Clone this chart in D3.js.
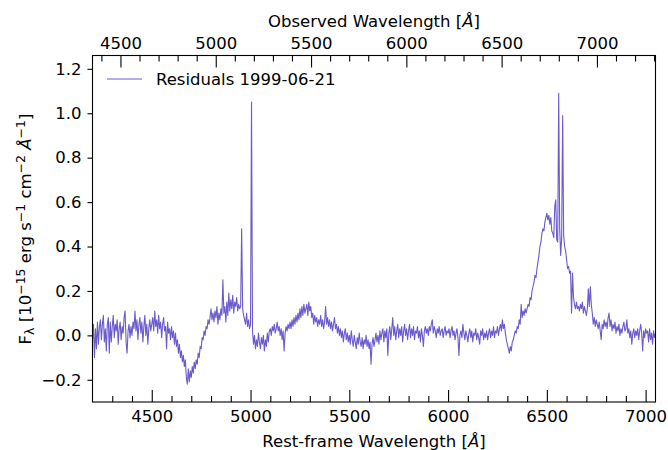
<!DOCTYPE html>
<html>
<head>
<meta charset="utf-8">
<script src="https://cdn.jsdelivr.net/npm/d3@7"></script>
<style>
  body { margin: 0; background: #fff; }
  text { font-family: "DejaVu Sans", sans-serif; }
</style>
</head>
<body>
<svg id="chart" width="668" height="450"></svg>
<script>
// ---------------- data ----------------
const seriesLabel = "Residuals 1999-06-21";
const lambdaStart = 4200;   // rest-frame wavelength of first sample [Å]
const lambdaStep = 5;       // sampling [Å]
const redshiftFactor = 1.0365; // observed / rest
const flux = [
  // 4200-4295
  -0.02, 0.05, -0.10, 0.03, -0.06, 0.06, -0.04, 0.04, 0.07, -0.02, 0.05, 0.09, -0.03, 0.03, -0.07, 0.05, 0.08, -0.08, 0.06, -0.03,
  // 4300-4395
  0.04, 0.09, -0.01, 0.05, 0.02, 0.07, -0.04, 0.03, 0.06, -0.02, 0.04, 0.01, 0.08, 0.11, -0.03, -0.08, 0.02, 0.05, -0.01, 0.04,
  // 4400-4495
  0.00, 0.06, 0.03, 0.11, 0.02, 0.07, -0.02, 0.05, 0.08, 0.01, 0.06, -0.03, 0.04, 0.09, 0.00, 0.05, -0.04, 0.03, 0.07, 0.02,
  // 4500-4595
  0.05, 0.08, 0.02, 0.11, 0.04, 0.07, 0.01, 0.09, 0.03, 0.06, -0.01, 0.05, 0.08, 0.02, 0.04, -0.06, 0.06, 0.01, 0.03, -0.02,
  // 4600-4695
  0.04, -0.01, 0.02, -0.04, 0.01, -0.05, -0.02, -0.08, -0.04, -0.10, -0.07, -0.12, -0.09, -0.14, -0.11, -0.19, -0.22, -0.15, -0.21, -0.16,
  // 4700-4795
  -0.19, -0.14, -0.17, -0.12, -0.15, -0.11, -0.13, -0.08, -0.10, -0.05, -0.06, -0.01, -0.02, 0.02, 0.00, 0.04, 0.03, 0.07, 0.05, 0.08,
  // 4800-4895
  0.12, 0.07, 0.10, 0.06, 0.11, 0.08, 0.13, 0.05, 0.10, 0.07, 0.12, 0.09, 0.25, 0.10, 0.13, 0.06, 0.15, 0.09, 0.19, 0.11,
  // 4900-4995
  0.16, 0.12, 0.18, 0.10, 0.15, 0.13, 0.17, 0.11, 0.14, 0.12, 0.13, 0.48, 0.12, 0.09, 0.07, 0.05, 0.10, 0.04, 0.07, 0.03,
  // 5000-5095
  0.05, 1.05, 0.02, -0.04, 0.00, -0.06, -0.02, -0.05, 0.01, -0.03, -0.06, -0.01, -0.04, 0.00, -0.07, -0.02, -0.05, 0.01, -0.03, 0.02,
  // 5100-5195
  0.03, 0.00, 0.04, 0.02, 0.05, 0.01, 0.03, 0.06, 0.02, 0.04, 0.00, 0.03, -0.02, 0.02, -0.07, 0.01, 0.04, 0.02, 0.05, 0.03,
  // 5200-5295
  0.06, 0.03, 0.07, 0.04, 0.08, 0.05, 0.09, 0.06, 0.10, 0.07, 0.12, 0.08, 0.13, 0.09, 0.14, 0.10, 0.12, 0.14, 0.09, 0.15,
  // 5300-5395
  0.11, 0.13, 0.08, 0.10, 0.05, 0.09, 0.06, 0.08, 0.04, 0.07, 0.05, 0.09, 0.04, 0.07, 0.03, 0.06, 0.13, 0.05, 0.08, 0.04,
  // 5400-5495
  0.07, 0.03, 0.06, 0.02, 0.05, 0.08, 0.03, 0.05, 0.01, 0.04, 0.00, 0.03, -0.01, 0.02, -0.03, 0.01, 0.03, -0.02, 0.01, -0.03,
  // 5500-5595
  0.00, -0.04, 0.02, -0.02, -0.05, 0.00, -0.03, -0.06, -0.01, -0.04, 0.01, -0.03, -0.05, -0.01, -0.06, -0.02, -0.04, 0.00, -0.05, -0.02,
  // 5600-5695
  -0.06, -0.03, -0.13, -0.04, -0.01, -0.05, -0.02, 0.01, -0.03, 0.00, -0.04, 0.02, -0.02, 0.01, 0.03, -0.03, 0.02, -0.01, 0.03, -0.09,
  // 5700-5795
  0.01, 0.04, -0.02, 0.03, 0.08, 0.00, 0.04, -0.02, 0.02, 0.05, -0.01, 0.03, 0.00, 0.04, -0.03, 0.02, 0.05, 0.00, 0.03, -0.02,
  // 5800-5895
  0.02, 0.05, -0.01, 0.03, 0.00, 0.04, -0.02, 0.02, 0.01, 0.04, -0.01, 0.02, -0.03, 0.03, 0.00, -0.05, 0.02, 0.04, 0.01, 0.03,
  // 5900-5995
  0.00, 0.04, 0.02, 0.05, 0.07, 0.01, 0.04, 0.02, -0.01, 0.03, 0.01, 0.04, 0.00, 0.02, 0.03, -0.01, 0.02, 0.04, 0.00, 0.02,
  // 6000-6095
  0.01, 0.03, -0.01, 0.02, 0.04, 0.00, 0.02, -0.02, 0.01, 0.03, -0.01, -0.09, 0.00, 0.02, -0.01, 0.05, 0.01, -0.02, 0.02, 0.00,
  // 6100-6195
  -0.03, 0.01, 0.03, -0.01, 0.02, -0.03, 0.01, 0.00, 0.03, -0.02, 0.01, -0.01, -0.04, 0.02, 0.00, 0.03, -0.02, 0.01, -0.01, 0.02,
  // 6200-6295
  -0.02, 0.01, 0.03, -0.01, 0.02, 0.00, 0.04, -0.01, 0.02, 0.01, 0.04, 0.00, 0.03, 0.05, 0.02, 0.07, 0.03, 0.05, 0.01, -0.02,
  // 6300-6395
  -0.04, -0.06, -0.08, -0.05, -0.07, -0.03, -0.02, 0.00, 0.02, 0.01, 0.04, 0.03, 0.07, 0.05, 0.14, 0.08, 0.11, 0.09, 0.12, 0.10,
  // 6400-6495
  0.12, 0.14, 0.13, 0.17, 0.16, 0.20, 0.22, 0.24, 0.27, 0.26, 0.30, 0.33, 0.36, 0.40, 0.42, 0.46, 0.48, 0.47, 0.51, 0.53,
  // 6500-6595
  0.55, 0.52, 0.54, 0.50, 0.53, 0.47, 0.46, 0.44, 0.58, 0.61, 0.43, 0.42, 1.09, 0.48, 0.36, 0.44, 0.99, 0.45, 0.40, 0.38,
  // 6600-6695
  0.34, 0.30, 0.31, 0.28, 0.29, 0.10, 0.28, 0.17, 0.14, 0.12, 0.15, 0.12, 0.13, 0.11, 0.14, 0.12, 0.15, 0.10, 0.13, 0.11,
  // 6700-6795
  0.09, 0.12, 0.21, 0.13, 0.22, 0.14, 0.10, 0.05, 0.08, 0.04, 0.07, 0.05, 0.03, 0.06, 0.02, -0.02, 0.05, 0.03, 0.07, 0.04,
  // 6800-6895
  0.06, 0.03, 0.08, 0.10, 0.04, 0.07, 0.02, 0.05, 0.03, 0.06, 0.01, 0.04, 0.02, 0.05, 0.00, 0.03, 0.01, 0.04, 0.06, 0.02,
  // 6900-7050
  0.03, 0.07, 0.01, 0.03, -0.01, 0.02, -0.04, 0.01, 0.03, -0.01, 0.02, 0.00, 0.03, -0.02, 0.02, 0.05, 0.01, -0.07, 0.02, -0.01,
  0.03, 0.01, 0.02, -0.03, 0.03, -0.02, 0.01, -0.04, 0.02, -0.01, 0.01
];
const restDomain = [4200, 7050];
const yDomain = [-0.30, 1.26];
const restMajorTicks = [4500, 5000, 5500, 6000, 6500, 7000];
const obsMajorTicks = [4500, 5000, 5500, 6000, 6500, 7000];
const yTicks = [-0.2, 0.0, 0.2, 0.4, 0.6, 0.8, 1.0, 1.2];

const data = flux.map((f, i) => ({ wl: lambdaStart + i * lambdaStep, f }));

// ---------------- layout ----------------
const svg = d3.select("#chart");
const L = 92.5, R = 655.5, T = 55.5, B = 402;
const color = "#6a5acd";
const fs = 16.5;

const x = d3.scaleLinear().domain(restDomain).range([L, R]);
const xTop = d3.scaleLinear().domain(restDomain.map(d => d * redshiftFactor)).range([L, R]);
const y = d3.scaleLinear().domain(yDomain).range([B, T]);

const restMinor = d3.range(4300, 7051, 100).filter(v => v % 500 !== 0);
const obsMinor = d3.range(4400, 7301, 100).filter(v => v % 500 !== 0);

svg.append("defs").append("clipPath").attr("id", "clip")
  .append("rect").attr("x", L).attr("y", T).attr("width", R - L).attr("height", B - T);

// spectrum
svg.append("path")
  .datum(data)
  .attr("clip-path", "url(#clip)")
  .attr("fill", "none")
  .attr("stroke", color)
  .attr("stroke-width", 1.1)
  .attr("stroke-linejoin", "round")
  .attr("d", d3.line().x(d => x(d.wl)).y(d => y(d.f)));

function styleAxis(g) {
  g.select(".domain").remove();
  g.selectAll("line").attr("stroke", "#000").attr("stroke-width", 1.1);
  g.selectAll("text").attr("font-size", fs).attr("fill", "#000")
    .attr("font-family", "DejaVu Sans, sans-serif");
}

// bottom axis (inward ticks)
svg.append("g").attr("transform", `translate(0,${B})`)
  .call(d3.axisBottom(x).tickValues(restMinor).tickSize(-6).tickFormat(""))
  .call(styleAxis);
svg.append("g").attr("transform", `translate(0,${B})`)
  .call(d3.axisBottom(x).tickValues(restMajorTicks).tickSize(-12).tickPadding(8.5).tickFormat(d3.format("d")))
  .call(styleAxis);

// top axis (inward ticks)
svg.append("g").attr("transform", `translate(0,${T})`)
  .call(d3.axisTop(xTop).tickValues(obsMinor).tickSize(-6).tickFormat(""))
  .call(styleAxis);
svg.append("g").attr("transform", `translate(0,${T})`)
  .call(d3.axisTop(xTop).tickValues(obsMajorTicks).tickSize(-12).tickPadding(7).tickFormat(d3.format("d")))
  .call(styleAxis);

// left axis (outward ticks)
svg.append("g").attr("transform", `translate(${L},0)`)
  .call(d3.axisLeft(y).tickValues(yTicks).tickSize(5).tickPadding(6).tickFormat(d => d3.format(".1f")(d).replace("-", "\u2212")))
  .call(styleAxis);

// frame
svg.append("rect").attr("x", L).attr("y", T).attr("width", R - L).attr("height", B - T)
  .attr("fill", "none").attr("stroke", "#000").attr("stroke-width", 1.1);

// axis titles
const bt = svg.append("text").attr("x", (L + R) / 2).attr("y", 446.5)
  .attr("text-anchor", "middle").attr("font-size", fs);
bt.append("tspan").text("Rest-frame Wavelength [");
bt.append("tspan").attr("font-style", "italic").text("Å");
bt.append("tspan").text("]");

const tt = svg.append("text").attr("x", (L + R) / 2).attr("y", 26.5)
  .attr("text-anchor", "middle").attr("font-size", fs);
tt.append("tspan").text("Observed Wavelength [");
tt.append("tspan").attr("font-style", "italic").text("Å");
tt.append("tspan").text("]");

const yl = svg.append("text")
  .attr("transform", `translate(31,229) rotate(-90)`)
  .attr("text-anchor", "middle").attr("font-size", fs);
const small = 12.5;
yl.append("tspan").text("F");
yl.append("tspan").attr("font-size", small).attr("dy", 3).text("λ");
yl.append("tspan").attr("dy", -3).text(" [10");
yl.append("tspan").attr("font-size", small).attr("dy", -6.5).text("−15");
yl.append("tspan").attr("dy", 6.5).text(" erg s");
yl.append("tspan").attr("font-size", small).attr("dy", -6.5).text("−1");
yl.append("tspan").attr("dy", 6.5).text(" cm");
yl.append("tspan").attr("font-size", small).attr("dy", -6.5).text("−2");
yl.append("tspan").attr("dy", 6.5).text(" ");
yl.append("tspan").attr("font-style", "italic").text("Å");
yl.append("tspan").attr("font-size", small).attr("dy", -6.5).text("−1");
yl.append("tspan").attr("dy", 6.5).text("]");

// legend
svg.append("line").attr("x1", 107).attr("x2", 142).attr("y1", 79).attr("y2", 79)
  .attr("stroke", color).attr("stroke-width", 1.1);
svg.append("text").attr("x", 156).attr("y", 85).attr("font-size", fs).text(seriesLabel);
</script>
</body>
</html>
